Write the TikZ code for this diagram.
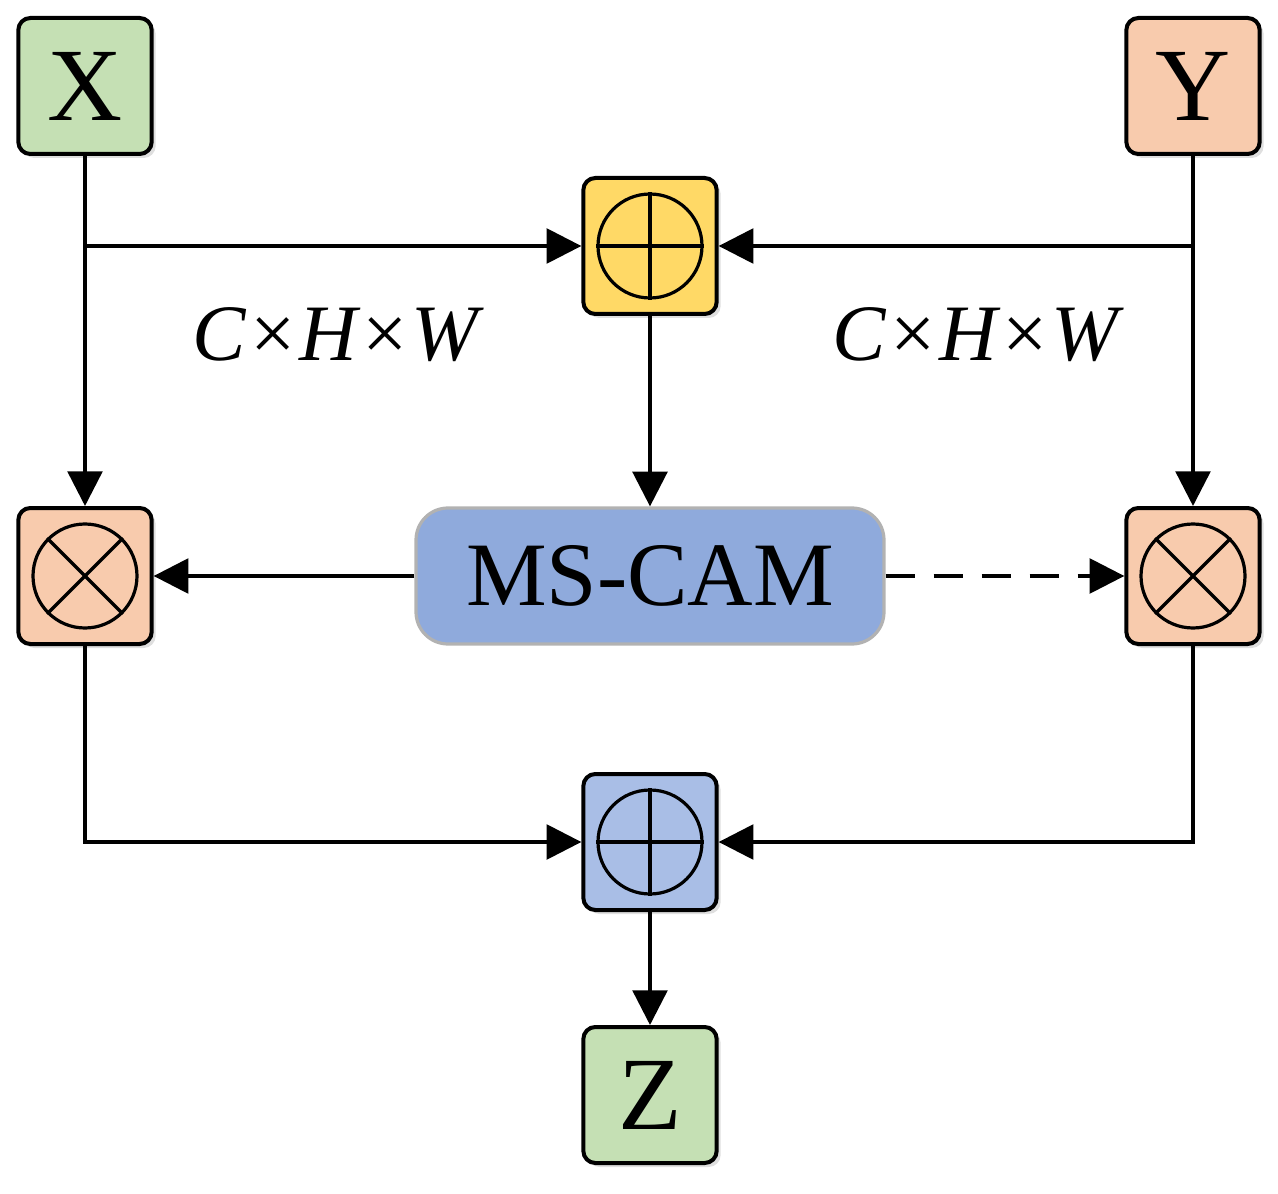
\documentclass[tikz,border=0pt]{standalone}
\usepackage{fontspec}
\setmainfont{Liberation Serif}
\usetikzlibrary{arrows.meta,shadows}
\definecolor{cg}{HTML}{C5E0B4}
\definecolor{co}{HTML}{F8CBAD}
\definecolor{cy}{HTML}{FFD966}
\definecolor{cb}{HTML}{8FAADC}
\definecolor{cb2}{HTML}{A9BEE6}
\begin{document}
\begin{tikzpicture}[x=0.75pt,y=-0.75pt,
 box/.style={draw=black,line width=3pt,rounded corners=9pt,minimum width=100pt,minimum height=102pt,inner sep=0pt,
   drop shadow={shadow xshift=3pt,shadow yshift=-3pt,opacity=0.25}},
 lbl/.style={font=\fontsize{78}{80}\selectfont},
 ln/.style={line width=2.6pt,-{Triangle[length=26pt,width=26pt]}},
 pl/.style={line width=2.6pt},
 circ/.style={draw,line width=2.4pt,circle,minimum size=78pt,inner sep=0pt}]
\useasboundingbox (0,0) rectangle (1278,1194);
\node[box,fill=cg,lbl] (X) at (85,86) {X};
\node[box,fill=co,lbl] (Y) at (1193,86) {Y};
\node[box,fill=cg,lbl] (Z) at (650,1095) {Z};
\node[box,fill=cy] (P1) at (650,246) {};
\node[box,fill=co] (M1) at (85,576) {};
\node[box,fill=co] (M2) at (1193,576) {};
\node[box,fill=cb2] (P2) at (650,842) {};
\node[draw=gray!60,line width=2.4pt,fill=cb,rounded corners=24pt,minimum width=351pt,minimum height=102pt,
  font=\fontsize{68}{70}\selectfont] (MS) at (650,576) {MS-CAM};
\foreach \n in {P1,P2}{
 \node[circ] (c\n) at (\n) {};
 \draw[pl] (c\n.north)--(c\n.south) (c\n.west)--(c\n.east);}
\foreach \n in {M1,M2}{
 \node[circ] (c\n) at (\n) {};
 \draw[pl] (c\n.north west)--(c\n.south east) (c\n.north east)--(c\n.south west);}
\coordinate (xa) at (85,246);
\coordinate (ya) at (1193,246);
\coordinate (xb) at (85,842);
\coordinate (yb) at (1193,842);
\draw[ln] (X.south)--(M1.north);
\draw[ln] (Y.south)--(M2.north);
\draw[ln] (xa)--(P1.west);
\draw[ln] (ya)--(P1.east);
\draw[ln] (P1.south)--(MS.north);
\draw[ln] (MS.west)--(M1.east);
\draw[ln,dash pattern=on 22pt off 14pt] (MS.east)--(M2.west);
\draw[ln] (M1.south)--(xb)--(P2.west);
\draw[ln] (M2.south)--(yb)--(P2.east);
\draw[ln] (P2.south)--(Z.north);
\node[font=\fontsize{60}{62}\selectfont\itshape] (l1) at (335,335) {C×H×W};
\node[font=\fontsize{60}{62}\selectfont\itshape] (l2) at (975,335) {C×H×W};
\end{tikzpicture}
\end{document}
